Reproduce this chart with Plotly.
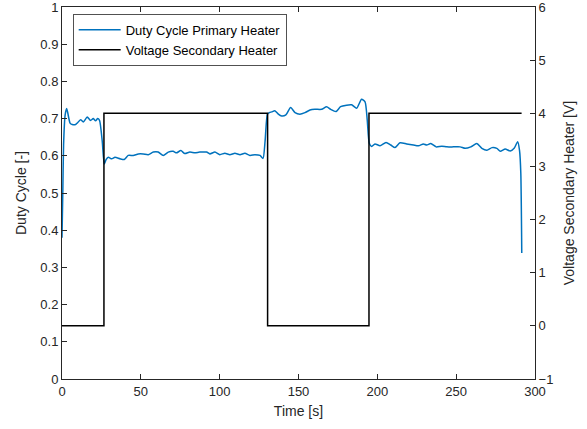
import plotly.graph_objects as go

# Duty cycle of primary heater (left axis)
duty_time = [0.0, 0.5, 1.0, 2.0, 3.0, 5.1, 6.5, 8.6, 9.7, 11.8, 13.5, 16.0, 18.1, 19.8, 21.3, 22.6, 23.8,
             25.5, 26.8, 28.0, 29.4, 31.5, 33.6, 36.8, 39.5, 42.0, 45.2, 48.4, 51.5, 54.7, 57.9, 61.0,
             64.2, 67.4, 70.5, 72.6, 75.4, 77.9, 81.1, 84.3, 87.4, 91.7, 93.8, 97.0, 100.1, 103.3,
             106.5, 109.7, 112.9, 116.0, 119.2, 122.4, 125.6, 127.5, 128.8, 130.3, 131.5, 133.0, 135.0,
             137.2, 139.3, 142.0, 145.0, 147.8, 150.9, 154.1, 157.3, 160.4, 164.7, 167.8, 170.4, 173.8,
             176.7, 180.5, 183.7, 186.9, 190.0, 192.2, 193.6, 194.9, 196.4, 198.5, 201.7, 205.5, 208.5,
             211.2, 214.4, 218.6, 222.9, 226.1, 229.2, 231.3, 233.9, 237.3, 240.9, 244.1, 248.3, 252.5,
             255.7, 259.3, 263.1, 266.3, 269.5, 272.7, 275.8, 278.0, 281.1, 284.3, 286.9, 289.0, 290.2,
             291.0, 291.6]
duty_value = [0.38, 0.50, 0.63, 0.71, 0.727, 0.688, 0.684, 0.684, 0.688, 0.697, 0.691, 0.704, 0.695, 0.700,
              0.694, 0.700, 0.695, 0.64, 0.578, 0.590, 0.596, 0.592, 0.596, 0.592, 0.590, 0.601, 0.601,
              0.605, 0.605, 0.603, 0.610, 0.610, 0.601, 0.610, 0.612, 0.608, 0.614, 0.606, 0.610, 0.608,
              0.610, 0.610, 0.605, 0.610, 0.603, 0.607, 0.603, 0.607, 0.603, 0.607, 0.601, 0.603, 0.601,
              0.593, 0.639, 0.712, 0.716, 0.718, 0.721, 0.712, 0.707, 0.710, 0.730, 0.716, 0.712, 0.716,
              0.723, 0.725, 0.725, 0.732, 0.725, 0.719, 0.732, 0.736, 0.737, 0.728, 0.752, 0.745, 0.696,
              0.634, 0.625, 0.632, 0.627, 0.636, 0.629, 0.622, 0.635, 0.632, 0.629, 0.627, 0.632, 0.629,
              0.633, 0.624, 0.626, 0.624, 0.624, 0.624, 0.620, 0.624, 0.633, 0.620, 0.615, 0.622, 0.620,
              0.612, 0.618, 0.613, 0.621, 0.638, 0.614, 0.553, 0.339]

# Voltage of secondary heater (right axis), step signal
volt_time = [0.0, 26.6, 130.4, 194.7, 291.5]
volt_value = [0, 4, 0, 4, 4]

x_ticks = [0, 50, 100, 150, 200, 250, 300]
y_ticks = [0, 0.1, 0.2, 0.3, 0.4, 0.5, 0.6, 0.7, 0.8, 0.9, 1]
y_tick_text = ["0", "0.1", "0.2", "0.3", "0.4", "0.5", "0.6", "0.7", "0.8", "0.9", "1"]
y2_ticks = [-1, 0, 1, 2, 3, 4, 5, 6]

axis_col = "#262626"
font_family = "Liberation Sans, Arial, sans-serif"

fig = go.Figure()
fig.add_trace(go.Scatter(x=volt_time, y=volt_value, mode="lines", name="Voltage Secondary Heater",
                         line=dict(color="black", width=1.5, shape="hv"), yaxis="y2",
                         legendrank=2))
fig.add_trace(go.Scatter(x=duty_time, y=duty_value, mode="lines", name="Duty Cycle Primary Heater",
                         line=dict(color="#0072BD", width=1.5, shape="spline", smoothing=0.6),
                         legendrank=1))

fig.update_layout(
    width=587, height=429,
    margin=dict(l=62, r=52, t=7, b=50),
    paper_bgcolor="white", plot_bgcolor="white",
    font=dict(family=font_family, size=13, color=axis_col),
    showlegend=True,
    legend=dict(x=0.023, y=0.981, xanchor="left", yanchor="top",
                bgcolor="white", bordercolor=axis_col, borderwidth=0.8,
                font=dict(size=13, color="black"), tracegroupgap=0,
                itemwidth=42, traceorder="normal"),
    xaxis=dict(range=[0, 300], tickvals=x_ticks, ticks="inside", ticklen=5, tickcolor=axis_col,
               showline=True, linecolor=axis_col, linewidth=1, mirror="ticks", showgrid=False,
               zeroline=False, automargin=False, ticklabeloverflow="allow",
               title=dict(text="Time [s]", font=dict(size=14), standoff=8)),
    yaxis=dict(range=[0, 1], tickvals=y_ticks, ticktext=y_tick_text, ticks="inside", ticklen=5,
               tickcolor=axis_col, showline=True, linecolor=axis_col, linewidth=1, showgrid=False,
               zeroline=False, automargin=False, ticklabeloverflow="allow",
               title=dict(text="Duty Cycle [-]", font=dict(size=14), standoff=10)),
    yaxis2=dict(range=[-1, 6], tickvals=y2_ticks, ticks="inside", ticklen=5, tickcolor=axis_col,
                overlaying="y", side="right", showline=True, linecolor=axis_col, linewidth=1,
                showgrid=False, zeroline=False, automargin=False, ticklabeloverflow="allow",
                title=dict(text="Voltage Secondary Heater [V]", font=dict(size=14), standoff=11)),
)

fig.write_html("out.html", config={"displayModeBar": False},
               post_script="document.body.style.margin='0';document.body.style.padding='0';"
                           "document.body.style.overflow='hidden';")
